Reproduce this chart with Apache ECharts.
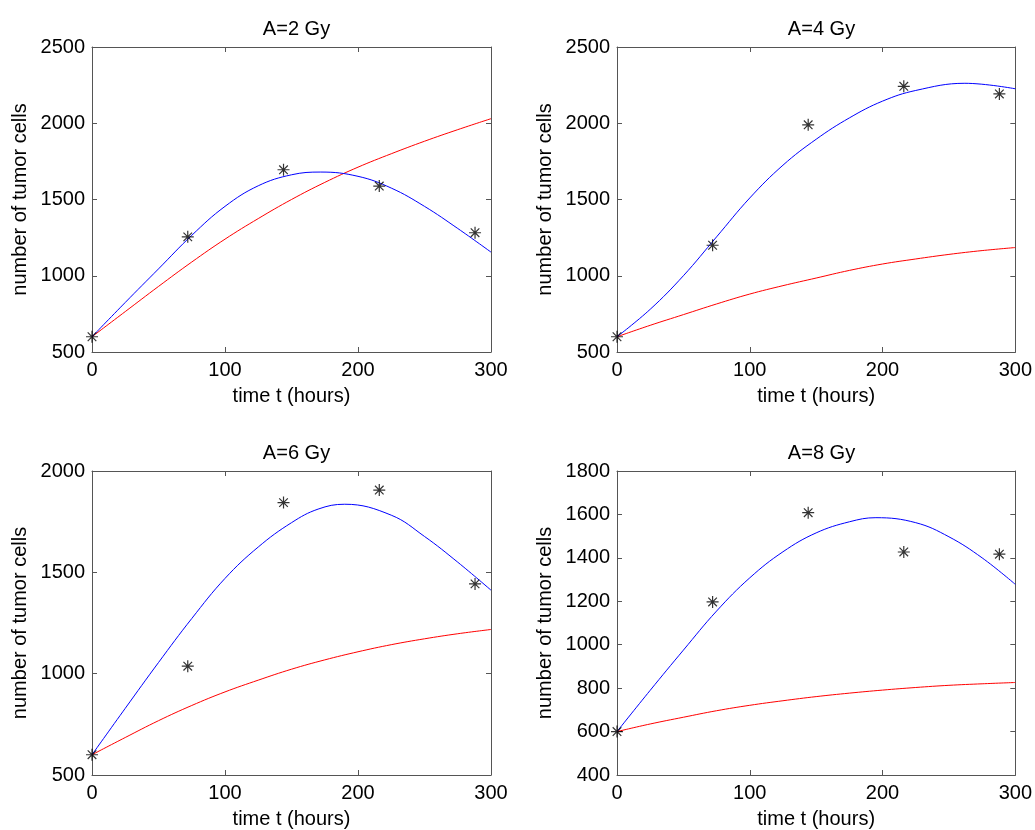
<!DOCTYPE html>
<html>
<head>
  <meta charset="UTF-8">
  <title>tumor cells</title>
  <style>
    html, body { margin: 0; padding: 0; background: #fff; }
    #myChart { width: 1035px; height: 830px; }
  </style>
</head>
<body>
  <div id="myChart"></div>
  <script src="https://cdn.jsdelivr.net/npm/echarts@6/dist/echarts.min.js"></script>
  <script>
    const myChart = echarts.init(document.getElementById('myChart'));

    // data
    const titles = ['A=2 Gy', 'A=4 Gy', 'A=6 Gy', 'A=8 Gy'];
    const obsTime = [0, 72, 144, 216, 288];
    const redTime = [0, 25, 50, 75, 100, 125, 150, 175, 200, 225, 250, 275, 300];

    const obs2 = [600, 1255, 1695, 1588, 1282];
    const obs4 = [600, 1200, 1990, 2242, 2192];
    const obs6 = [600, 1037, 1844, 1906, 1443];
    const obs8 = [600, 1197, 1608, 1427, 1417];

    // blue fits, read with the peak point included
    const blueTime2 = [0, 25, 50, 75, 100, 125, 150, 172, 200, 225, 250, 275, 300];
    const blue2 = [600, 825, 1045, 1265, 1455, 1590, 1662, 1680, 1652, 1575, 1455, 1310, 1155];
    const blueTime4 = [0, 25, 50, 75, 100, 125, 150, 175, 200, 225, 262, 300];
    const blue4 = [600, 780, 1000, 1255, 1510, 1725, 1895, 2035, 2145, 2215, 2262, 2226];
    const blueTime6 = [0, 25, 50, 75, 100, 125, 150, 170, 190, 225, 250, 275, 300];
    const blue6 = [600, 829, 1055, 1272, 1470, 1625, 1745, 1812, 1836, 1782, 1677, 1550, 1412];
    const blueTime8 = [0, 25, 50, 75, 100, 125, 150, 175, 195, 225, 250, 275, 300];
    const blue8 = [600, 790, 975, 1155, 1308, 1428, 1515, 1566, 1585, 1562, 1497, 1400, 1278];

    const red2 = [600, 765, 930, 1090, 1240, 1375, 1500, 1612, 1712, 1800, 1882, 1958, 2030];
    const red4 = [600, 675, 745, 815, 880, 935, 985, 1035, 1077, 1110, 1140, 1165, 1185];
    const red6 = [600, 685, 768, 843, 910, 968, 1022, 1068, 1108, 1143, 1172, 1197, 1218];
    const red8 = [600, 635, 666, 696, 721, 742, 761, 777, 791, 803, 813, 820, 826];

    const xTicks = { min: 0, max: 300, interval: 100 };
    const yRanges = [
      { min: 500, max: 2500, interval: 500 },
      { min: 500, max: 2500, interval: 500 },
      { min: 500, max: 2000, interval: 500 },
      { min: 400, max: 1800, interval: 200 }
    ];

    const obsAll = [obs2, obs4, obs6, obs8];
    const blueTimes = [blueTime2, blueTime4, blueTime6, blueTime8];
    const blueAll = [blue2, blue4, blue6, blue8];
    const redAll = [red2, red4, red6, red8];

    const font = "'Liberation Sans', Arial, sans-serif";
    const axisColor = '#555';
    const grids = [
      { left: 92, top: 47, width: 399, height: 305 },
      { left: 617, top: 47, width: 399, height: 305 },
      { left: 92, top: 471, width: 399, height: 304 },
      { left: 617, top: 471, width: 399, height: 304 }
    ];

    const star = 'path://M0,-6L0,6M-6,0L6,0M-4.3,-4.3L4.3,4.3M-4.3,4.3L4.3,-4.3';
    const zip = (xs, ys) => xs.map((x, i) => [x, ys[i]]);
    const plain = v => String(v);

    const xAxis = [], yAxis = [], series = [], title = [];
    grids.forEach((g, i) => {
      title.push({
        text: titles[i],
        left: g.left + g.width / 2,
        top: g.top - 33,
        textAlign: 'center',
        textStyle: { fontFamily: font, fontSize: 20, fontWeight: 'normal', color: '#000' }
      });
      const line = { show: true, onZero: false, lineStyle: { color: axisColor, width: 1 } };
      const tick = { show: true, inside: true, length: 5, lineStyle: { color: axisColor } };
      xAxis.push({
        type: 'value', gridIndex: i, ...xTicks,
        name: 'time t (hours)', nameLocation: 'middle', nameGap: 34,
        nameTextStyle: { fontFamily: font, fontSize: 20, color: '#000' },
        axisLine: line, axisTick: tick, splitLine: { show: false },
        axisLabel: { fontFamily: font, fontSize: 20, color: '#000', margin: 8, formatter: plain }
      }, {
        type: 'value', gridIndex: i, position: 'top', ...xTicks,
        axisLine: line, axisTick: tick, splitLine: { show: false },
        axisLabel: { show: false }
      });
      yAxis.push({
        type: 'value', gridIndex: i, ...yRanges[i],
        name: 'number of tumor cells', nameLocation: 'middle', nameGap: 62,
        nameTextStyle: { fontFamily: font, fontSize: 20, color: '#000' },
        axisLine: line, axisTick: tick, splitLine: { show: false },
        axisLabel: { fontFamily: font, fontSize: 20, color: '#000', margin: 7, formatter: plain }
      }, {
        type: 'value', gridIndex: i, position: 'right', ...yRanges[i],
        axisLine: line, axisTick: tick, splitLine: { show: false },
        axisLabel: { show: false }
      });
      series.push({
        type: 'line', xAxisIndex: i * 2, yAxisIndex: i * 2,
        data: zip(redTime, redAll[i]), smooth: 0.4, showSymbol: false,
        lineStyle: { color: '#ff0000', width: 1 }, z: 2
      }, {
        type: 'line', xAxisIndex: i * 2, yAxisIndex: i * 2,
        data: zip(blueTimes[i], blueAll[i]), smooth: 0.4, showSymbol: false,
        lineStyle: { color: '#0000ff', width: 1 }, z: 3
      }, {
        type: 'scatter', xAxisIndex: i * 2, yAxisIndex: i * 2,
        data: zip(obsTime, obsAll[i]), symbol: star, symbolSize: 12,
        itemStyle: { color: 'none', borderColor: '#000', borderWidth: 1.2 }, z: 4
      });
    });

    myChart.setOption({
      animation: false,
      backgroundColor: '#fff',
      title, grid: grids, xAxis, yAxis, series
    });
  </script>
</body>
</html>
